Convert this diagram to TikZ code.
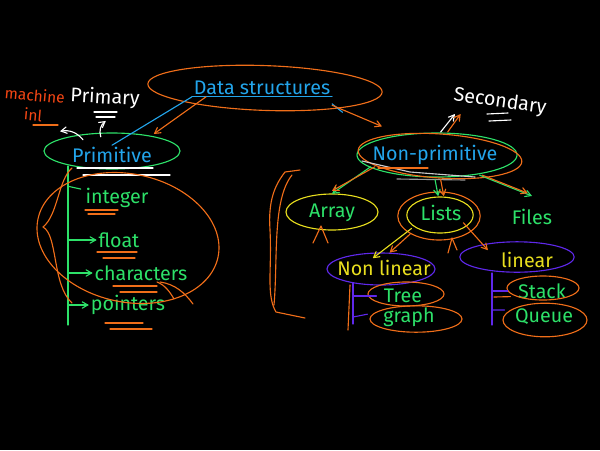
\documentclass[tikz,border=0pt]{standalone}
\usepackage{fontspec}
\setmainfont{Fira Sans}
\usetikzlibrary{arrows}
\usetikzlibrary{positioning}

\definecolor{chalkcyan}{RGB}{35,165,235}
\definecolor{chalkgreen}{RGB}{45,225,105}
\definecolor{chalkorange}{RGB}{240,110,25}
\definecolor{chalkred}{RGB}{245,70,20}
\definecolor{chalkyellow}{RGB}{232,222,30}
\definecolor{chalkpurple}{RGB}{95,40,235}

\begin{document}
\begin{tikzpicture}[x=0.025cm, y=-0.025cm, line width=0.8pt, line cap=round, line join=round, >=angle 60,
  lbl/.style={inner sep=1pt, font=\fontsize{14}{16}\selectfont}]

\useasboundingbox (0,0) rectangle (600,450);
\fill[black] (0,0) rectangle (600,450);

% top level
\node[lbl, text=chalkcyan] (ds) at (262,88) {Data structures};
\draw[chalkorange, rotate around={-2:(265,88)}] (265,88) ellipse [x radius=2.93cm, y radius=0.56cm];
\draw[chalkcyan] (ds.south west) -- (ds.south east);

% primitive side
\node[lbl, text=chalkcyan] (prim) at (112,155) {Primitive};
\draw[chalkgreen] (112,151) ellipse [x radius=1.7cm, y radius=0.45cm];
\draw[white] (77,168) -- (153,168) (83,175) -- (170,175);
\draw[chalkcyan] (ds.south west) -- (prim.north);
\draw[chalkorange,->] ([xshift=10pt]ds.south west) -- ([yshift=8pt]prim.north east);

\node[lbl, text=white, rotate=-3] (primary) at (105,98) {Primary};
\draw[white] (94,112) -- (117,112) (96,117) -- (115,117);
\draw[white,->] ([xshift=-8pt,yshift=6pt]prim.north) to[bend left=35] ([xshift=1pt,yshift=-8pt]primary.south);

\node[lbl, text=chalkred, font=\fontsize{11}{14}\selectfont, align=center, rotate=-5] (mach) at (34,105) {machine\\inl};
\draw[chalkorange] (33,125) -- (58,125);
\draw[white,->] ([xshift=9pt,yshift=4pt]prim.north west) to[bend right=30] ([xshift=-3pt,yshift=-4pt]mach.south east);

% list of primitive types
\foreach \name/\txt/\x/\y in {int/integer/117/198, flt/float/119/240, chr/characters/141/273, ptr/pointers/128/305}
  \node[lbl, text=chalkgreen] (\name) at (\x,\y) {\txt};
\coordinate (spinetop) at (68,166);
\coordinate (spinebot) at (68,325);
\draw[chalkgreen] (spinetop) -- (spinebot);
\draw[chalkgreen] (spinetop |- int.north west) -- ([xshift=-2pt,yshift=-2pt]int.north west);
\foreach \name in {flt, chr, ptr}
  \draw[chalkgreen,->] (spinetop |- \name.west) -- (\name.west);
\foreach \xa/\xb/\y in {85/118/210, 88/115/214, 97/137/252, 103/135/258, 113/157/286, 120/157/292, 105/143/323, 110/152/329}
  \draw[chalkorange] (\xa,\y) -- (\xb,\y);
\draw[chalkorange, rotate around={-12:(128,238)}] (128,238) ellipse [x radius=2.3cm, y radius=1.6cm];
\draw[chalkorange] (72,168) .. controls (58,180) and (58,215) .. (43,227) .. controls (58,235) and (52,285) .. (72,303);
\draw[chalkorange] (157,282) .. controls (165,285) and (170,292) .. (174,299);
\draw[chalkorange] (160,282) .. controls (175,284) and (185,293) .. (193,304);

% non-primitive side
\node[lbl, text=chalkcyan] (np) at (435,155) {Non-primitive};
\draw[chalkgreen] (437,155) ellipse [x radius=2cm, y radius=0.55cm];
\draw[chalkorange, rotate around={-4:(440,156)}] (440,156) ellipse [x radius=2.05cm, y radius=0.55cm];
\draw[white!80!black] (362,161) -- (410,172) -- (475,177);
\draw[chalkorange] (378,168) -- (428,168);
\draw[white!60!black] (397,179) -- (465,180);
\draw[chalkcyan] ([yshift=-5pt]ds.south east) -- ([xshift=-20pt,yshift=22pt]np.north west);
\draw[chalkorange,->] ([yshift=-6pt]ds.south east) -- ([xshift=8pt,yshift=12pt]np.north west);

\node[lbl, text=white, rotate=-8] (sec) at (500,102) {Secondary};
\draw[white] (487,114) -- (508,113) (489,121) -- (511,120);
\coordinate (sectip) at (455,114);
\draw[white,->] ([xshift=4pt,yshift=8pt]np.north) -- (sectip);
\draw[chalkorange,->] ([xshift=9pt,yshift=8pt]np.north) -- ([xshift=4pt]sectip);

\node[lbl, text=chalkgreen] (arr) at (332,213) {Array};
\draw[chalkyellow] (332,212) ellipse [x radius=1.15cm, y radius=0.45cm];
\node[lbl, text=chalkgreen] (lists) at (441,213) {Lists};
\draw[chalkyellow] (440,215) ellipse [x radius=0.83cm, y radius=0.45cm];
\draw[chalkorange] (439,216) ellipse [x radius=1.03cm, y radius=0.6cm];
\node[lbl, text=chalkgreen] (files) at (532,217) {Files};

\draw[chalkgreen,->] (np.south west) -- ([yshift=6pt]arr.north);
\draw[chalkorange,->] ([xshift=3pt]np.south west) -- ([yshift=8pt]arr.north);
\draw[chalkgreen,->] ([yshift=-9pt]np.south) -- ([xshift=-2pt,yshift=5pt]lists.north);
\draw[chalkorange,->] ([xshift=4pt,yshift=-9pt]np.south) -- ([xshift=2pt,yshift=5pt]lists.north);
\draw[chalkgreen,->] ([xshift=-14pt,yshift=-6pt]np.south east) -- ([yshift=8pt]files.north);
\draw[chalkorange,->] ([xshift=-12pt,yshift=-6pt]np.south east) -- ([xshift=-3pt,yshift=10pt]files.north);
\draw[chalkorange] (313,243) -- (321,226) -- (328,243);
\draw[chalkorange] (448,253) -- (452,238) -- (457,250);

% kinds of lists
\node[lbl, text=chalkyellow] (nl) at (384,268) {Non linear};
\draw[chalkpurple] (381,269) ellipse [x radius=1.35cm, y radius=0.4cm];
\node[lbl, text=chalkyellow] (lin) at (527,260) {linear};
\draw[chalkpurple] (517,257) ellipse [x radius=1.43cm, y radius=0.38cm];
\draw[chalkyellow,->] ([xshift=-5pt,yshift=-4pt]lists.south west) -- ([xshift=-8pt]nl.north);
\draw[chalkorange,->] ([xshift=-6pt,yshift=-8pt]lists.south west) -- ([xshift=4pt,yshift=4pt]nl.north);
\draw[chalkorange,->] (lists.south east) -- ([xshift=-8pt,yshift=7pt]lin.west);

\node[lbl, text=chalkgreen] (tree) at (403,296) {Tree};
\draw[chalkorange] (406,294) ellipse [x radius=0.95cm, y radius=0.3cm];
\node[lbl, text=chalkgreen] (graph) at (409,317) {graph};
\draw[chalkorange] (416,319) ellipse [x radius=1.15cm, y radius=0.33cm];
\coordinate (nltop) at (353,283);
\coordinate (nlbot) at (353,324);
\draw[chalkpurple] (nltop) -- (nlbot);
\draw[chalkorange] (350,285) -- (348,330);
\draw[chalkpurple] (nltop |- tree.west) -- ([xshift=-4pt]tree.west);
\draw[chalkpurple] (nltop |- graph.west) -- ([xshift=-10pt,yshift=2pt]graph.west);

\node[lbl, text=chalkgreen] (stack) at (542,291) {Stack};
\draw[chalkorange] (543,288) ellipse [x radius=0.9cm, y radius=0.3cm];
\node[lbl, text=chalkgreen] (queue) at (544,317) {Queue};
\draw[chalkorange] (545,320) ellipse [x radius=1.05cm, y radius=0.42cm];
\coordinate (lintop) at (492,273);
\coordinate (linbot) at (492,325);
\draw[chalkpurple] (lintop) -- (linbot);
\draw[chalkpurple] (lintop |- stack.west) -- ([xshift=-6pt]stack.west);
\draw[chalkorange] (494,297) -- ([xshift=-4pt,yshift=-4pt]stack.west);
\draw[chalkpurple] (lintop |- 0,310) -- ([xshift=-6pt,yshift=5pt]queue.west);

% left bracket of the non-primitive part
\draw[chalkorange] (300,170) -- (285,172) .. controls (275,185) and (268,200) .. (270,230) .. controls (272,270) and (266,295) .. (276,312) -- (305,318);
\draw[chalkorange] (292,175) .. controls (272,200) and (278,260) .. (274,305);
\end{tikzpicture}
\end{document}
